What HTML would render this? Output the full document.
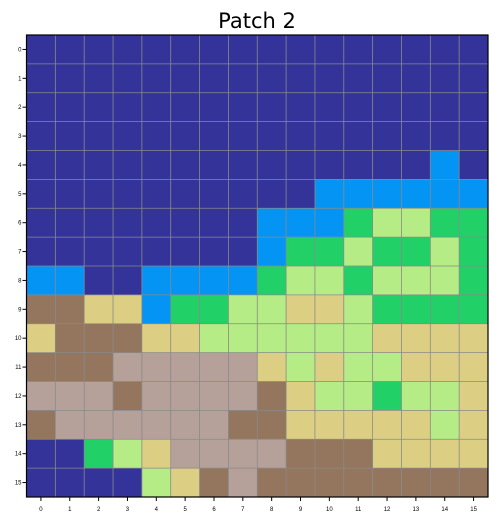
<!DOCTYPE html>
<html><head><meta charset="utf-8"><style>
body{margin:0;background:#fff;font-family:"Liberation Sans","DejaVu Sans",sans-serif}
</style></head><body>
<svg id="c" width="498" height="521" xmlns="http://www.w3.org/2000/svg">
<text x="257" y="28" font-size="21" text-anchor="middle" font-family="DejaVu Sans, Liberation Sans, sans-serif">Patch 2</text>
<g id="cells"></g><g id="grid"></g><g id="ticks"></g>
<rect x="26.5" y="35" width="461.5" height="462" fill="none" stroke="#000" stroke-width="1.2"/>
</svg>
<script>
const palette=["#333399","#0494F4","#22D068","#B5EC85","#DCCF83","#94755D","#B5A09A"];
const tickLabels=["0","1","2","3","4","5","6","7","8","9","10","11","12","13","14","15"];
const rows=[
[0,0,0,0,0,0,0,0,0,0,0,0,0,0,0,0],
[0,0,0,0,0,0,0,0,0,0,0,0,0,0,0,0],
[0,0,0,0,0,0,0,0,0,0,0,0,0,0,0,0],
[0,0,0,0,0,0,0,0,0,0,0,0,0,0,0,0],
[0,0,0,0,0,0,0,0,0,0,0,0,0,0,1,0],
[0,0,0,0,0,0,0,0,0,0,1,1,1,1,1,1],
[0,0,0,0,0,0,0,0,1,1,1,2,3,3,2,2],
[0,0,0,0,0,0,0,0,1,2,2,3,2,2,3,2],
[1,1,0,0,1,1,1,1,2,3,3,2,3,3,3,2],
[5,5,4,4,1,2,2,3,3,4,4,3,2,2,2,2],
[4,5,5,5,4,4,3,3,3,3,3,3,4,4,4,4],
[5,5,5,6,6,6,6,6,4,3,4,3,3,4,4,4],
[6,6,6,5,6,6,6,6,5,4,3,3,2,3,3,4],
[5,6,6,6,6,6,6,5,5,4,4,4,4,4,3,4],
[0,0,2,3,4,6,6,6,6,5,5,5,4,4,4,4],
[0,0,0,0,3,4,5,6,5,5,5,5,5,5,5,5]];
const NS="http://www.w3.org/2000/svg";
const x0=26.5,y0=35,W=461.5,H=462,n=16;
const xs=i=>x0+i*W/n, ys=j=>y0+j*H/n;
const cells=document.getElementById('cells'),grid=document.getElementById('grid'),ticks=document.getElementById('ticks');
rows.forEach((r,j)=>r.forEach((v,i)=>{
 const e=document.createElementNS(NS,'rect');
 e.setAttribute('x',xs(i));e.setAttribute('y',ys(j));
 e.setAttribute('width',W/n+0.5);e.setAttribute('height',H/n+0.5);
 e.setAttribute('fill',palette[v]);
 
 
 cells.appendChild(e);
}));
for(let k=1;k<n;k++){
 const a=document.createElementNS(NS,'line');
 a.setAttribute('x1',xs(k));a.setAttribute('x2',xs(k));a.setAttribute('y1',y0);a.setAttribute('y2',y0+H);
 a.setAttribute('stroke','#8a8a8a');a.setAttribute('stroke-width','0.8');
 
 
 grid.appendChild(a);
 const b=document.createElementNS(NS,'line');
 b.setAttribute('y1',ys(k));b.setAttribute('y2',ys(k));b.setAttribute('x1',x0);b.setAttribute('x2',x0+W);
 b.setAttribute('stroke','#8a8a8a');b.setAttribute('stroke-width','0.8');
 
 
 grid.appendChild(b);
}
tickLabels.forEach((t,k)=>{
 const cx=xs(k+0.5),cy=ys(k+0.5);
 const tx=document.createElementNS(NS,'text');
 tx.setAttribute('x',cx);tx.setAttribute('y',y0+H+14);tx.setAttribute('font-size','6');tx.setAttribute('text-anchor','middle');
 tx.textContent=t;
 
 
 ticks.appendChild(tx);
 const ty=document.createElementNS(NS,'text');
 ty.setAttribute('x',x0-5);ty.setAttribute('y',cy+2);ty.setAttribute('font-size','6');ty.setAttribute('text-anchor','end');
 ty.textContent=t;
 
 
 ticks.appendChild(ty);
 const l1=document.createElementNS(NS,'line');
 l1.setAttribute('x1',cx);l1.setAttribute('x2',cx);l1.setAttribute('y1',y0+H);l1.setAttribute('y2',y0+H+4);l1.setAttribute('stroke','#000');
 
 
 ticks.appendChild(l1);
 const l2=document.createElementNS(NS,'line');
 l2.setAttribute('y1',cy);l2.setAttribute('y2',cy);l2.setAttribute('x1',x0-4);l2.setAttribute('x2',x0);l2.setAttribute('stroke','#000');
 
 
 ticks.appendChild(l2);
});
</script>
</body></html>
